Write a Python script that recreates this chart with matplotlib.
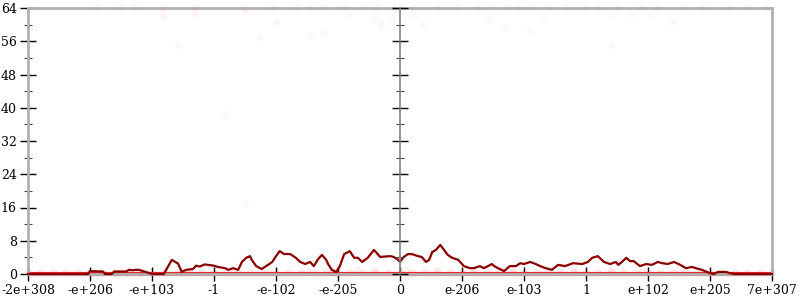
import numpy as np
import matplotlib
matplotlib.use("Agg")
import matplotlib.pyplot as plt
from matplotlib.ticker import MultipleLocator

# x runs on an evenly spaced "order of magnitude" scale, one unit per label
x_labels = ["-2e+308", "-e+206", "-e+103", "-1", "-e-102", "-e-205", "0",
            "e-206", "e-103", "1", "e+102", "e+205", "7e+307"]

# density curve (x in label units, y count)
line_x = [0.00, 0.97, 1.00, 1.21, 1.24, 1.35, 1.39, 1.58, 1.63, 1.69, 1.74,
          1.79, 1.94, 2.00, 2.19, 2.32, 2.42, 2.48, 2.55, 2.66, 2.71, 2.77,
          2.85, 3.00, 3.06, 3.18, 3.23, 3.31, 3.39, 3.45, 3.52, 3.58, 3.61,
          3.68, 3.77, 3.87, 3.94, 4.00, 4.06, 4.13, 4.23, 4.32, 4.39, 4.47,
          4.55, 4.61, 4.68, 4.74, 4.81, 4.84, 4.90, 4.97, 5.03, 5.10, 5.19,
          5.26, 5.32, 5.39, 5.48, 5.58, 5.68, 5.84, 5.90, 5.97, 6.00, 6.06,
          6.13, 6.19, 6.29, 6.35, 6.42, 6.47, 6.52, 6.58, 6.65, 6.71, 6.77,
          6.84, 6.90, 6.94, 7.03, 7.13, 7.19, 7.29, 7.35, 7.42, 7.48, 7.52,
          7.58, 7.68, 7.77, 7.87, 7.94, 8.00, 8.10, 8.19, 8.26, 8.35, 8.45,
          8.55, 8.66, 8.79, 8.94, 9.03, 9.10, 9.19, 9.29, 9.39, 9.48, 9.52,
          9.58, 9.65, 9.71, 9.77, 9.87, 9.97, 10.06, 10.16, 10.23, 10.32,
          10.42, 10.52, 10.61, 10.71, 10.77, 10.87, 11.00, 11.06, 11.13,
          11.26, 11.32, 11.40, 12.00]
line_y = [0.0, 0.0, 0.7, 0.6, 0.0, 0.0, 0.6, 0.6, 1.0, 0.9, 1.0, 1.0, 0.3,
          0.0, 0.0, 3.4, 2.5, 0.5, 1.0, 1.2, 2.0, 1.8, 2.3, 2.0, 1.7, 1.4,
          1.0, 1.4, 1.0, 2.9, 3.9, 4.3, 3.4, 1.9, 1.2, 2.2, 2.9, 4.3, 5.5,
          4.8, 4.8, 3.9, 2.9, 2.4, 2.9, 1.9, 3.6, 4.6, 3.4, 2.4, 1.0, 0.5,
          1.9, 4.8, 5.5, 3.9, 3.9, 2.9, 3.9, 5.8, 4.1, 4.3, 4.1, 3.4, 2.9,
          4.1, 4.8, 4.8, 4.3, 4.1, 2.9, 3.4, 5.3, 5.8, 7.0, 5.8, 4.6, 3.9,
          3.6, 3.4, 1.9, 1.4, 1.4, 1.9, 1.4, 1.9, 2.4, 1.9, 1.4, 0.7, 1.9,
          1.9, 2.6, 2.4, 2.9, 2.4, 1.9, 1.4, 1.0, 2.2, 1.9, 2.6, 2.4, 2.9,
          3.9, 4.3, 2.9, 2.4, 2.9, 2.2, 2.9, 3.9, 3.1, 3.1, 1.9, 2.4, 2.2,
          2.9, 2.6, 2.4, 2.9, 2.2, 1.4, 1.7, 1.4, 1.0, 0.2, 0.0, 0.5, 0.5,
          0.2, 0.0, 0.0]

# faint sample points
pts_bottom_x = [0.0, 0.2, 0.4, 0.6, 0.8, 1.0, 1.2, 1.4, 1.6, 1.8, 2.0, 2.2,
                2.4, 2.6, 2.8, 3.0, 3.2, 3.4, 3.6, 3.8, 4.0, 4.2, 4.4, 4.6,
                4.8, 5.0, 5.2, 5.4, 5.6, 5.8, 6.0, 6.2, 6.4, 6.6, 6.8, 7.0,
                7.2, 7.4, 7.6, 7.8, 8.0, 8.2, 8.4, 8.6, 8.8, 9.0, 9.2, 9.4,
                9.6, 9.8, 10.0, 10.2, 10.4, 10.6, 10.8, 11.0, 11.2, 11.4,
                11.6, 11.8, 12.0]
pts_low_x = [1.5, 2.6, 3.3, 3.9, 4.5, 4.9, 5.3, 5.6, 6.1, 6.6, 7.2, 7.8,
             8.3, 8.8, 9.4, 9.9, 10.5]
pts_low_y = [1.0, 1.2, 0.9, 1.1, 0.8, 1.0, 1.2, 0.9, 1.1, 1.0, 0.8, 1.1,
             0.9, 1.2, 1.0, 0.9, 1.0]
pts_top_x = [1.10, 1.48, 1.73, 2.18, 2.18, 2.69, 2.69, 3.50, 3.48, 3.95,
             4.00, 4.32, 4.55, 4.77, 5.00, 5.11, 5.39, 5.61, 5.90, 5.70,
             6.02, 6.21, 6.37, 6.61, 6.90, 7.26, 7.50, 7.72, 7.90, 8.10,
             8.40, 8.70, 8.99, 9.20, 9.50, 9.89, 10.15, 10.60, 10.87,
             11.30, 11.60, 11.90]
pts_top_y = [64.0, 64.0, 64.0, 63.8, 62.1, 64.0, 62.5, 64.0, 63.5, 64.0,
             60.6, 64.0, 64.0, 64.0, 64.0, 64.0, 64.0, 64.0, 64.0, 60.0,
             64.0, 64.0, 64.0, 64.0, 64.0, 64.0, 64.0, 64.0, 64.0, 64.0,
             64.0, 64.0, 64.0, 64.0, 64.0, 64.0, 64.0, 64.0, 64.0, 64.0,
             64.0, 64.0]
pts_mid_x = [2.42, 3.50, 3.17, 3.74, 4.56, 4.78, 5.18, 5.58, 5.85, 6.21,
             6.37, 7.43, 7.69, 8.09, 8.32, 9.42, 9.74, 10.04, 10.40, 9.42]
pts_mid_y = [55.2, 17.2, 38.4, 57.1, 57.6, 58.0, 62.5, 61.6, 61.8, 62.4,
             60.0, 61.6, 59.4, 58.7, 62.0, 62.4, 62.4, 62.4, 60.6, 55.0]

plt.rcParams["font.family"] = "DejaVu Serif"
fig = plt.figure(figsize=(8, 3), dpi=100)
ax = fig.add_axes([28 / 800, 26 / 300, 744 / 800, 266 / 300])

pink = "#ff2020"
ax.scatter(pts_bottom_x, [0.6] * len(pts_bottom_x), s=30, color=pink,
           alpha=0.08, lw=0, zorder=2, clip_on=False)
ax.scatter(pts_low_x, pts_low_y, s=30, color=pink, alpha=0.05, lw=0,
           zorder=2)
ax.scatter(pts_top_x, pts_top_y, s=25, color=pink, alpha=0.05, lw=0,
           zorder=2, clip_on=False)
ax.scatter(pts_mid_x, pts_mid_y, s=25, color=pink, alpha=0.03, lw=0,
           zorder=2)
ax.plot(pts_bottom_x, [0] * len(pts_bottom_x), color="#e8282c", lw=3,
        zorder=2, clip_on=False, solid_capstyle="butt")

ax.plot(line_x, line_y, color="#8b0000", lw=1.6, zorder=3, clip_on=False)

ax.set_xlim(0, 12)
ax.set_ylim(0, 64)
ax.set_xticks(range(len(x_labels)))
ax.set_xticklabels(x_labels)
ax.yaxis.set_major_locator(MultipleLocator(8))
ax.yaxis.set_minor_locator(MultipleLocator(4))

for s in ["left", "right", "top", "bottom"]:
    ax.spines[s].set_color("#b0b0b0")
    ax.spines[s].set_linewidth(2)
ax.tick_params(axis="both", which="major", direction="inout", length=12,
               width=1, colors="black", labelsize=9, pad=2)
ax.tick_params(axis="y", which="major", right=True, length=12)
ax.tick_params(axis="y", which="minor", direction="inout", length=6,
               width=0.8, color="#444444", right=True)
ax.tick_params(axis="x", which="major", length=10)

# center vertical axis at 0
cx = ax.twinx()
cx.set_ylim(0, 64)
cx.spines["right"].set_position(("data", 6))
cx.spines["right"].set_color("#808080")
cx.spines["right"].set_linewidth(1.2)
for s in ["left", "top", "bottom"]:
    cx.spines[s].set_visible(False)
cx.yaxis.set_major_locator(MultipleLocator(8))
cx.yaxis.set_minor_locator(MultipleLocator(4))
cx.tick_params(axis="y", which="major", direction="inout", length=12,
               width=1, colors="black", labelright=False)
cx.tick_params(axis="y", which="minor", direction="inout", length=6,
               width=0.8, color="#444444")

plt.savefig("out.png")
